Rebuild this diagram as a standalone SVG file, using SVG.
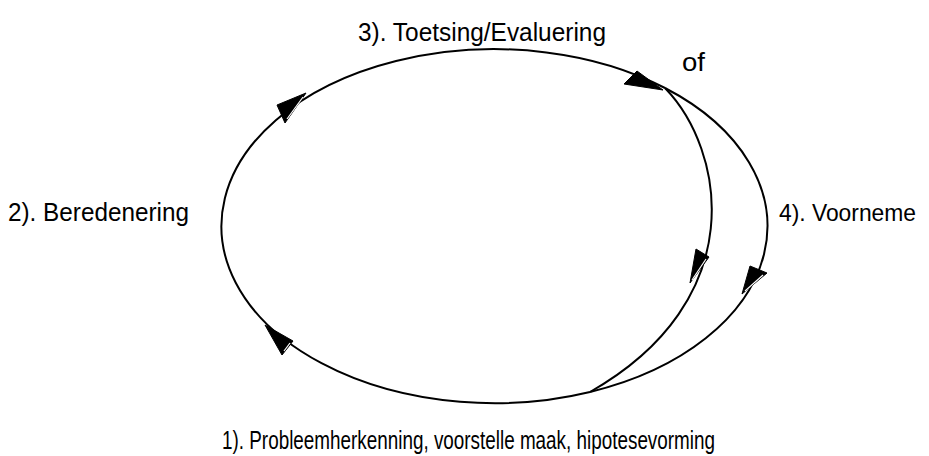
<svg xmlns="http://www.w3.org/2000/svg" width="929" height="456" viewBox="0 0 929 456">
<style>
.lbl{font-family:"Liberation Sans",Arial,sans-serif;font-size:25px;fill:#000}
.arc{fill:none;stroke:#000;stroke-width:2}
.head{fill:#000;stroke:#000;stroke-width:1}
.hl{stroke:#fff;stroke-width:1.2}
</style>
<rect width="929" height="456" fill="#fff"/>
<g id="connectors">
<path class="arc" d="M590,392 A273,177 0 1 1 665,88"/>
<path class="arc" d="M665,88 A273,177 0 0 1 590,392"/>
<path class="arc" d="M665,88 C725,150 752,300 590,392"/>
<polygon class="head" points="306,93 277,105 285,123"/>
<line class="hl" x1="303" y1="97" x2="287" y2="119"/>
<polygon class="head" points="637,71 624,84 663,90"/>
<polygon class="head" points="696,249 709,257 690,283"/>
<line class="hl" x1="706" y1="259" x2="692" y2="280"/>
<polygon class="head" points="750,266 767,273 742,294"/>
<line class="hl" x1="763" y1="275" x2="745" y2="291"/>
<polygon class="head" points="265,325 293,341 282,355"/>
<line class="hl" x1="290" y1="343" x2="284" y2="351"/>
</g>
<g id="node-1"><text class="lbl" x="222" y="449" textLength="493" lengthAdjust="spacingAndGlyphs">1). Probleemherkenning, voorstelle maak, hipotesevorming</text></g>
<g id="node-2"><text class="lbl" x="8" y="221" textLength="181" lengthAdjust="spacingAndGlyphs">2). Beredenering</text></g>
<g id="node-3"><text class="lbl" x="358" y="41" textLength="248" lengthAdjust="spacingAndGlyphs">3). Toetsing/Evaluering</text></g>
<g id="node-4"><text class="lbl" x="779" y="221" style="font-size:24px" textLength="137" lengthAdjust="spacingAndGlyphs">4). Voorneme</text></g>
<g id="node-of"><text class="lbl" x="682" y="71" textLength="23" lengthAdjust="spacingAndGlyphs">of</text></g>
</svg>
